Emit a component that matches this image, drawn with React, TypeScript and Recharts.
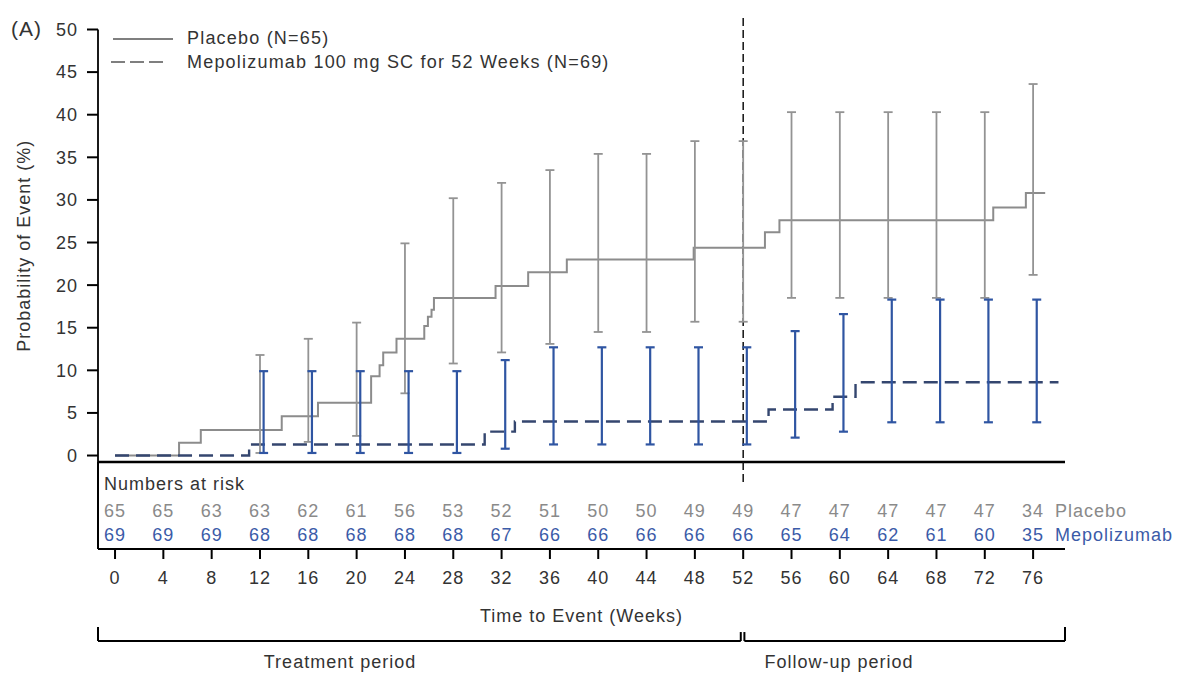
import React from 'react';
import { ComposedChart, Line, Scatter, ErrorBar, XAxis, YAxis, ReferenceLine } from 'recharts';

const X_MIN = -1.41;
const X_MAX = 78.64;
const Y_MIN = -0.76;
const ROW_MIN = 0.417;
const ROW_MAX = 4.042;
const FONT = '"Liberation Sans", Arial, sans-serif';

const GRAY = '#8c8c8c';
const BLUE = '#2f55a2';
const NAVY = '#34466f';

// cumulative probability of event (%), step curves
const placeboWeeks = [0, 5.3, 7.1, 13.8, 16.8, 21.2, 21.9, 22.2, 23.3, 25.6, 25.9, 26.2, 26.4, 31.5, 34.2, 37.4, 47.9, 53.8, 55.0, 72.7, 75.4, 77.0];
const placeboProb = [0, 1.5, 3.0, 4.6, 6.2, 9.3, 10.6, 12.1, 13.7, 15.2, 16.3, 17.1, 18.5, 19.9, 21.5, 23.0, 24.4, 26.2, 27.6, 29.1, 30.8, 30.8];
const mepoWeeks = [0, 11.1, 30.6, 33.1, 54.1, 59.4, 61.3, 78.1];
const mepoProb = [0, 1.3, 2.8, 4.0, 5.4, 6.9, 8.6, 8.6];

// 95% CI at the visit weeks
const ciWeeks = [12, 16, 20, 24, 28, 32, 36, 40, 44, 48, 52, 56, 60, 64, 68, 72, 76];
const placeboLower = [0.3, 1.6, 2.3, 7.3, 10.8, 12.1, 13.1, 14.5, 14.5, 15.7, 15.7, 18.5, 18.5, 18.5, 18.5, 18.5, 21.2];
const placeboUpper = [11.8, 13.7, 15.6, 24.9, 30.2, 32.0, 33.5, 35.4, 35.4, 36.9, 36.9, 40.3, 40.3, 40.3, 40.3, 40.3, 43.6];
const mepoLower = [0.3, 0.3, 0.3, 0.3, 0.3, 0.8, 1.3, 1.3, 1.3, 1.3, 1.3, 2.1, 2.8, 3.9, 3.9, 3.9, 3.9];
const mepoUpper = [9.9, 9.9, 9.9, 9.9, 9.9, 11.2, 12.7, 12.7, 12.7, 12.7, 12.7, 14.6, 16.6, 18.3, 18.3, 18.3, 18.3];

// numbers at risk
const riskWeeks = [0, 4, 8, 12, 16, 20, 24, 28, 32, 36, 40, 44, 48, 52, 56, 60, 64, 68, 72, 76];
const placeboAtRisk = [65, 65, 63, 63, 62, 61, 56, 53, 52, 51, 50, 50, 49, 49, 47, 47, 47, 47, 47, 34];
const mepoAtRisk = [69, 69, 69, 68, 68, 68, 68, 68, 67, 66, 66, 66, 66, 66, 65, 64, 62, 61, 60, 35];

const yTicks = [0, 5, 10, 15, 20, 25, 30, 35, 40, 45, 50];

const placeboData = placeboWeeks.map((week, i) => ({ week, p: placeboProb[i] }));
const mepoData = mepoWeeks.map((week, i) => ({ week, p: mepoProb[i] }));
const placeboCI = ciWeeks.map((week, i) => ({ week, lo: placeboLower[i], hi: placeboUpper[i] }));
const mepoCI = ciWeeks.map((week, i) => ({ week: week + 0.3, lo: mepoLower[i], hi: mepoUpper[i] }));
const placeboRisk = riskWeeks.map((week, i) => ({ week, row: 2, n: placeboAtRisk[i] }));
const mepoRisk = riskWeeks.map((week, i) => ({ week, row: 1, n: mepoAtRisk[i] }));

const ciSpan = (d: any) => [0, d.hi - d.lo];
const noDot = () => <g />;

const riskText = (color: string) => (props: any) => (
  <text x={props.cx} y={props.cy} dy="0.36em" textAnchor="middle" fill={color} fontSize={18}>
    {props.payload.n}
  </text>
);

const RowLabel = (props: any) => {
  const placebo = props.payload.value === 2;
  return (
    <text x={props.x} y={props.y} dx={-10} dy="0.36em" textAnchor="start" fontSize={18} fill={placebo ? '#8a8a8a' : '#3b5ba8'}>
      {placebo ? 'Placebo' : 'Mepolizumab'}
    </text>
  );
};

const App: React.FC = () => {
  return (
    <div style={{ position: 'absolute', left: 0, top: 0, width: 1199, height: 673, background: '#fff', fontFamily: FONT, letterSpacing: '1px', color: '#333' }}>
      <div style={{ position: 'absolute', left: 0, top: 0 }}>
        <ComposedChart width={1199} height={474} margin={{ top: 29.5, right: 134, bottom: 10, left: 18 }}>
          <XAxis type="number" dataKey="week" domain={[X_MIN, X_MAX]} allowDataOverflow tick={false} tickLine={false} height={2} axisLine={{ stroke: '#000', strokeWidth: 2.5 }} />
          <YAxis
            type="number"
            domain={[Y_MIN, 50]}
            allowDataOverflow
            ticks={yTicks}
            interval={0}
            width={80}
            tickSize={11}
            tickMargin={9}
            tick={{ fontSize: 18, fill: '#333' }}
            tickLine={{ stroke: '#000', strokeWidth: 2 }}
            axisLine={{ stroke: '#000', strokeWidth: 1.8 }}
            label={{ value: 'Probability of Event (%)', angle: -90, position: 'insideLeft', offset: 6, style: { textAnchor: 'middle', fontSize: 18, fill: '#333' } }}
          />
          <ReferenceLine segment={[{ x: 52, y: 51.35 }, { x: 52, y: Y_MIN }]} ifOverflow="visible" stroke="#111" strokeWidth={1.5} strokeDasharray="8 4" />
          <Line data={placeboData} dataKey="p" type="stepAfter" stroke={GRAY} strokeWidth={2} dot={false} activeDot={false} isAnimationActive={false} />
          <Line data={mepoData} dataKey="p" type="stepAfter" stroke={NAVY} strokeWidth={2.4} strokeDasharray="14 7" dot={false} activeDot={false} isAnimationActive={false} />
          <Scatter data={placeboCI} dataKey="lo" shape={noDot} isAnimationActive={false}>
            <ErrorBar dataKey={ciSpan} direction="y" width={4.5} stroke="#939393" strokeWidth={1.8} />
          </Scatter>
          <Scatter data={mepoCI} dataKey="lo" shape={noDot} isAnimationActive={false}>
            <ErrorBar dataKey={ciSpan} direction="y" width={4.5} stroke={BLUE} strokeWidth={2.2} />
          </Scatter>
        </ComposedChart>
      </div>

      <div style={{ position: 'absolute', left: 0, top: 462 }}>
        <ComposedChart width={1199} height={167} margin={{ top: 0, right: 0, bottom: 30, left: 18 }}>
          <XAxis
            type="number"
            dataKey="week"
            domain={[X_MIN, X_MAX]}
            allowDataOverflow
            ticks={riskWeeks}
            interval={0}
            height={50}
            tickSize={10}
            tickMargin={12}
            tick={{ fontSize: 18, fill: '#333' }}
            tickLine={{ stroke: '#000', strokeWidth: 2 }}
            axisLine={{ stroke: '#000', strokeWidth: 2 }}
            label={{ value: 'Time to Event (Weeks)', position: 'bottom', offset: 10, style: { fontSize: 18, fill: '#333' } }}
          />
          <YAxis type="number" domain={[ROW_MIN, ROW_MAX]} allowDataOverflow width={80} tick={false} tickLine={false} axisLine={{ stroke: '#000', strokeWidth: 2 }} />
          <YAxis yAxisId="r" orientation="right" type="number" domain={[ROW_MIN, ROW_MAX]} allowDataOverflow ticks={[1, 2]} interval={0} width={134} tickSize={0} tickMargin={0} tickLine={false} axisLine={false} tick={RowLabel} />
          <ReferenceLine segment={[{ x: 52, y: ROW_MAX }, { x: 52, y: 3.08 }]} ifOverflow="visible" stroke="#111" strokeWidth={1.5} strokeDasharray="8 4" />
          <Scatter data={placeboRisk} dataKey="row" shape={riskText('#8a8a8a')} isAnimationActive={false} />
          <Scatter data={mepoRisk} dataKey="row" shape={riskText('#3b5ba8')} isAnimationActive={false} />
        </ComposedChart>
      </div>

      <div style={{ position: 'absolute', left: 0, top: 620 }}>
        <ComposedChart width={1199} height={30} margin={{ top: 7, right: 134, bottom: 9, left: 98 }}>
          <XAxis type="number" dataKey="week" domain={[X_MIN, X_MAX]} allowDataOverflow hide />
          <YAxis type="number" domain={[0, 1]} allowDataOverflow hide />
          <ReferenceLine segment={[{ x: X_MIN, y: 1 }, { x: X_MIN, y: 0 }]} ifOverflow="visible" stroke="#000" strokeWidth={2} />
          <ReferenceLine segment={[{ x: X_MIN, y: 0 }, { x: 51.8, y: 0 }]} ifOverflow="visible" stroke="#000" strokeWidth={2} />
          <ReferenceLine segment={[{ x: 51.8, y: 0 }, { x: 51.8, y: 0.64 }]} ifOverflow="visible" stroke="#000" strokeWidth={2} />
          <ReferenceLine segment={[{ x: 52.1, y: 0.64 }, { x: 52.1, y: 0 }]} ifOverflow="visible" stroke="#000" strokeWidth={2} />
          <ReferenceLine segment={[{ x: 52.1, y: 0 }, { x: X_MAX, y: 0 }]} ifOverflow="visible" stroke="#000" strokeWidth={2} />
          <ReferenceLine segment={[{ x: X_MAX, y: 0 }, { x: X_MAX, y: 1 }]} ifOverflow="visible" stroke="#000" strokeWidth={2} />
        </ComposedChart>
      </div>

      <div style={{ position: 'absolute', left: 11, top: 17, fontSize: 21, lineHeight: '24px' }}>(A)</div>

      <svg style={{ position: 'absolute', left: 0, top: 0 }} width={200} height={80}>
        <line x1={113} y1={39} x2={173} y2={39} stroke="#555" strokeWidth={1.3} />
        <line x1={111} y1={62} x2={165} y2={62} stroke="#555" strokeWidth={1.3} strokeDasharray="14 5" />
      </svg>
      <div style={{ position: 'absolute', left: 187, top: 28, fontSize: 18, lineHeight: '20px', whiteSpace: 'nowrap', letterSpacing: '1.2px' }}>Placebo (N=65)</div>
      <div style={{ position: 'absolute', left: 187, top: 52, fontSize: 18, lineHeight: '20px', whiteSpace: 'nowrap', letterSpacing: '1.2px' }}>Mepolizumab 100 mg SC for 52 Weeks (N=69)</div>

      <div style={{ position: 'absolute', left: 104, top: 474, fontSize: 18, lineHeight: '20px', whiteSpace: 'nowrap' }}>Numbers at risk</div>

      <div style={{ position: 'absolute', left: 240, width: 200, top: 652, fontSize: 18, lineHeight: '20px', textAlign: 'center', whiteSpace: 'nowrap' }}>Treatment period</div>
      <div style={{ position: 'absolute', left: 739, width: 200, top: 652, fontSize: 18, lineHeight: '20px', textAlign: 'center', whiteSpace: 'nowrap' }}>Follow-up period</div>
    </div>
  );
};

export default App;
